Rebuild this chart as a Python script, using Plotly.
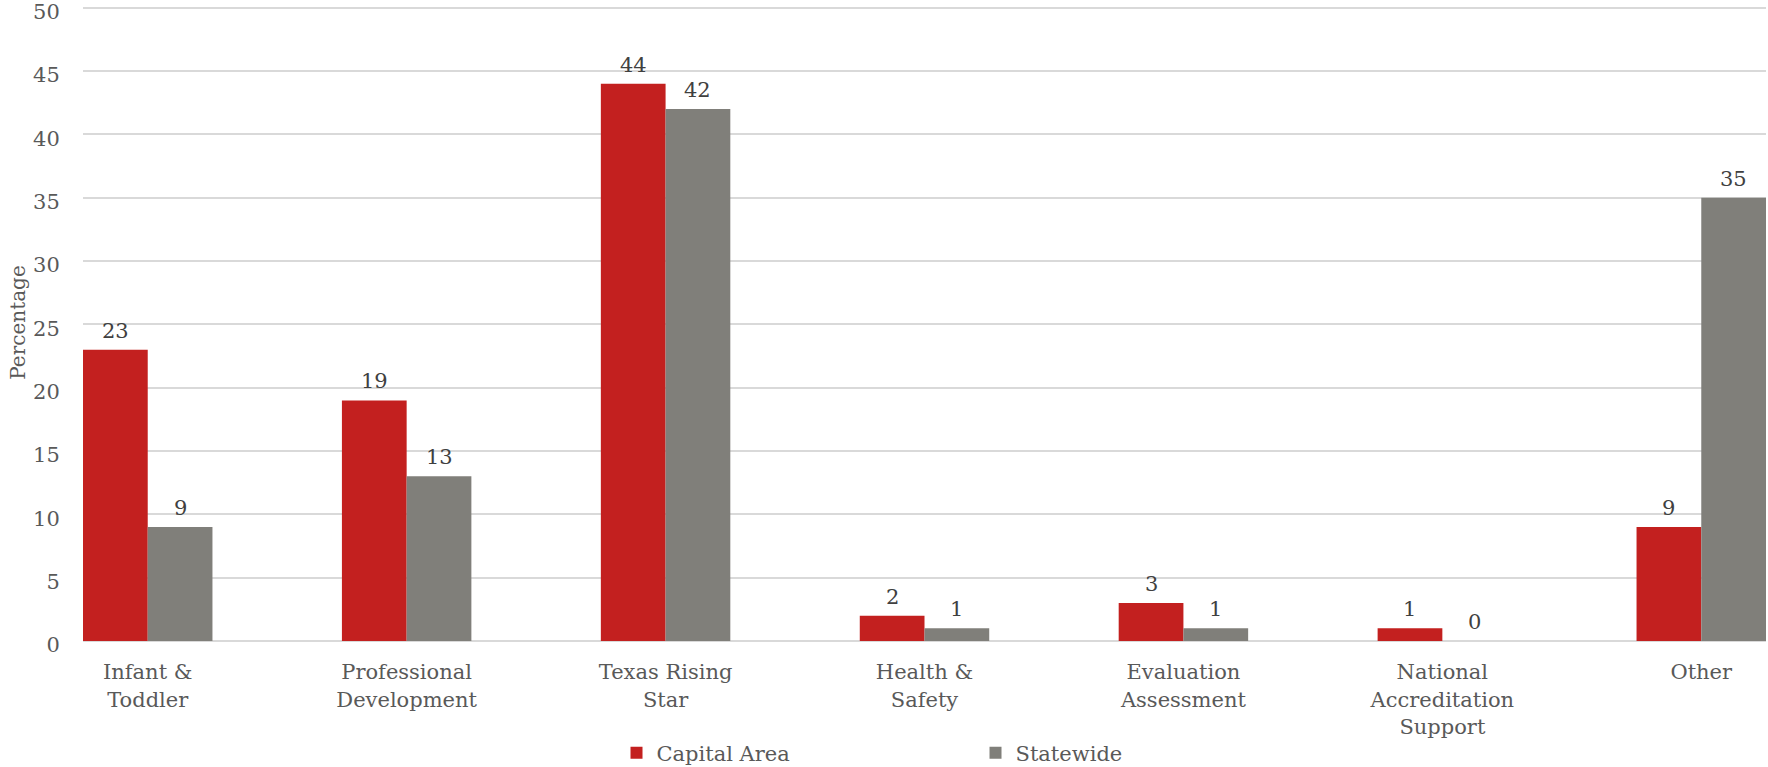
import plotly.graph_objects as go

categories = ["Infant &<br>Toddler", "Professional<br>Development", "Texas Rising<br>Star",
              "Health &<br>Safety", "Evaluation<br>Assessment",
              "National<br>Accreditation<br>Support", "Other"]
capital_area = [23, 19, 44, 2, 3, 1, 9]
statewide = [9, 13, 42, 1, 1, 0, 35]
y_ticks = [0, 5, 10, 15, 20, 25, 30, 35, 40, 45, 50]

FONT = "Georgia, 'DejaVu Serif', serif"
RED = "#C3201F"
GREY = "#807F7A"
LABEL_COLOR = "#404040"
TEXT_COLOR = "#595959"
FS = 21

fig = go.Figure()
fig.add_trace(go.Bar(name="Capital Area", x=categories, y=capital_area, marker_color=RED,
                     marker_line_width=0))
fig.add_trace(go.Bar(name="Statewide", x=categories, y=statewide, marker_color=GREY,
                     marker_line_width=0))

# data labels above each bar (positions from data through the axis scales)
for i, (a, b) in enumerate(zip(capital_area, statewide)):
    for off, v in ((-0.125, a), (0.125, b)):
        fig.add_annotation(x=i + off, y=v, xref="x", yref="y", text=str(v), showarrow=False,
                           yanchor="bottom", yshift=5,
                           font=dict(family=FONT, size=FS, color=LABEL_COLOR))

fig.update_layout(
    width=1768, height=767,
    barmode="group", bargap=0.5, bargroupgap=0,
    plot_bgcolor="white", paper_bgcolor="white",
    margin=dict(l=83, r=2, t=4, b=126, autoexpand=False),
    font=dict(family=FONT, size=FS, color=TEXT_COLOR),
    showlegend=True,
    legend=dict(orientation="h", x=0.317, xanchor="left", yref="container", y=0.018,
                yanchor="middle", entrywidth=314,
                font=dict(family=FONT, size=FS, color=TEXT_COLOR),
                itemwidth=30, traceorder="normal"),
)
fig.update_xaxes(range=[-0.25, 6.25], showgrid=False, showline=False, automargin=False,
                 tickfont=dict(family=FONT, size=FS, color=TEXT_COLOR),
                 ticks="outside", ticklen=12, tickcolor="rgba(0,0,0,0)")
fig.update_yaxes(range=[0, 50.3], tickvals=y_ticks, showgrid=True, gridcolor="#D9D9D9", gridwidth=1.5,
                 zeroline=True, zerolinecolor="#D9D9D9", zerolinewidth=1.5, automargin=False,
                 ticklabeloverflow="allow", ticklabelshift=4,
                 tickfont=dict(family=FONT, size=FS, color=TEXT_COLOR),
                 ticks="outside", ticklen=18, tickcolor="rgba(0,0,0,0)",
                 title=dict(text="Percentage", font=dict(family=FONT, size=20, color=TEXT_COLOR), standoff=2))

fig.write_html("out.html", config={"displayModeBar": False},
               post_script="document.body.style.margin='0';")
